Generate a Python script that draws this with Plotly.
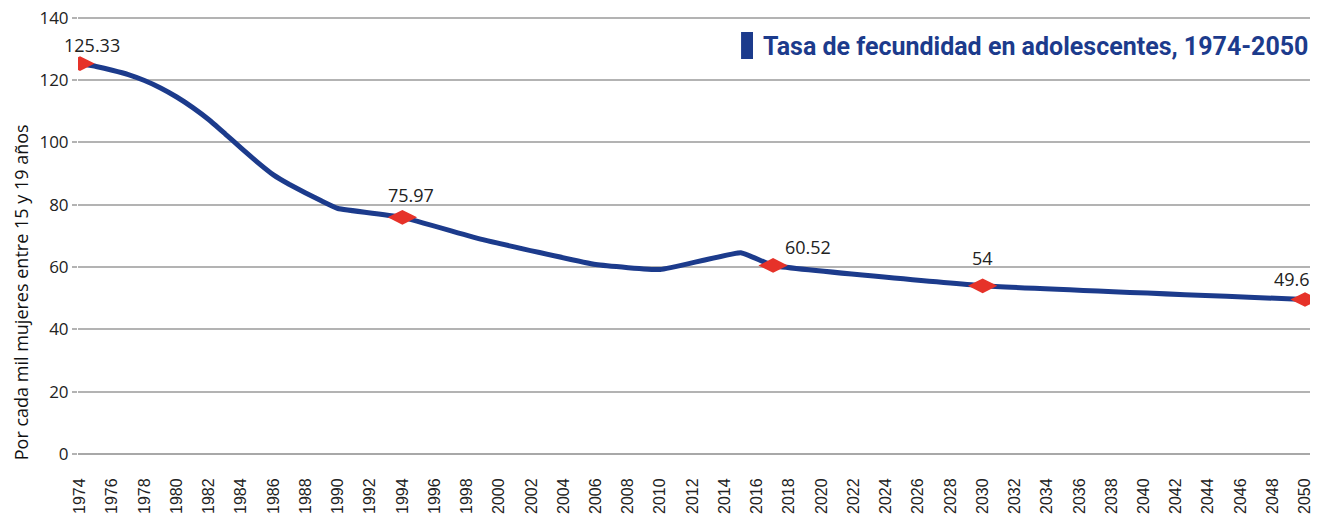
import plotly.graph_objects as go

years = [1974, 1975, 1976, 1977, 1978, 1979, 1980, 1981, 1982, 1983, 1984, 1985, 1986, 1987, 1988, 1989, 1990,
         1994, 1999, 2006, 2010, 2015, 2017, 2030, 2050]
rates = [125.33, 124.4, 123.2, 121.8, 119.9, 117.5, 114.6, 111.2, 107.3, 102.8, 98.2, 93.7, 89.6, 86.5, 83.8, 81.2, 78.8,
         75.97, 68.8, 60.8, 59.2, 64.6, 60.52, 54.0, 49.6]

marker_years = [1974, 1994, 2017, 2030, 2050]
marker_vals = [125.33, 75.97, 60.52, 54, 49.6]
marker_labels = ["125.33", "75.97", "60.52", "54", "49.6"]
label_shift_x = [12, 9, 35, 0, -13]
label_shift_y = [19, 22, 18, 28, 20]

tick_years = list(range(1974, 2051, 2))
y_ticks = list(range(0, 141, 20))

title_text = "Tasa de fecundidad en adolescentes, 1974-2050"
y_title = "Por cada mil mujeres entre 15 y 19 años"

BLUE = "#1c3b8c"
RED = "#e63229"

fig = go.Figure()
fig.add_trace(go.Scatter(
    x=years, y=rates, mode="lines",
    line=dict(color=BLUE, width=5, shape="spline", smoothing=0.3),
    showlegend=False, hoverinfo="skip"))
fig.add_trace(go.Scatter(
    x=marker_years, y=marker_vals, mode="markers",
    marker=dict(symbol="diamond-wide", size=21, color=RED),
    showlegend=False))

for xv, yv, lab, sx, sy in zip(marker_years, marker_vals, marker_labels, label_shift_x, label_shift_y):
    fig.add_annotation(x=xv, y=yv, text=lab, showarrow=False,
                       xshift=sx, yshift=sy,
                       font=dict(family="Open Sans", size=18, color="#222"))

fig.add_annotation(xref="paper", yref="paper", x=1.0, y=0.9315, xanchor="right", yanchor="middle",
                   text="<b>" + title_text + "</b>", showarrow=False,
                   font=dict(family="Roboto", size=25, color=BLUE))
fig.add_shape(type="rect", xref="paper", yref="paper",
              x0=0.5382, x1=0.5479, y0=0.9018, y1=0.9635,
              fillcolor=BLUE, line=dict(width=0))

fig.add_annotation(xref="paper", yref="paper", x=-0.046, y=0.37, xanchor="center", yanchor="middle",
                   text=y_title, textangle=-90, showarrow=False,
                   font=dict(family="Open Sans", size=18, color="#111"))

fig.update_layout(
    width=1332, height=515,
    margin=dict(l=78, r=22, t=16, b=61, autoexpand=False),
    paper_bgcolor="white", plot_bgcolor="white",
    font=dict(family="Open Sans", color="#222"),
    xaxis=dict(range=[1973.876, 2050.31], tickmode="array", tickvals=tick_years,
               ticktext=[str(t) for t in tick_years], tickangle=-90,
               showgrid=False, zeroline=False, showline=False, automargin=False,
               ticklabeloverflow="allow",
               tickfont=dict(family="Liberation Sans", size=16, color="#222"),
               ticks="outside", ticklen=17, tickcolor="rgba(0,0,0,0)"),
    yaxis=dict(range=[0, 140.6], tickmode="array", tickvals=y_ticks,
               ticktext=[str(t) for t in y_ticks],
               showgrid=True, gridcolor="#b3b3b3", gridwidth=1.5, automargin=False,
               ticklabeloverflow="allow",
               zeroline=True, zerolinecolor="#a8a8a8", zerolinewidth=2,
               tickfont=dict(family="Open Sans", size=17, color="#222"),
               ticks="outside", ticklen=5, tickcolor="#b3b3b3", tickwidth=1.5),
)

fig.write_html("out.html", config={"displayModeBar": False},
               post_script="document.body.style.margin='0';")
